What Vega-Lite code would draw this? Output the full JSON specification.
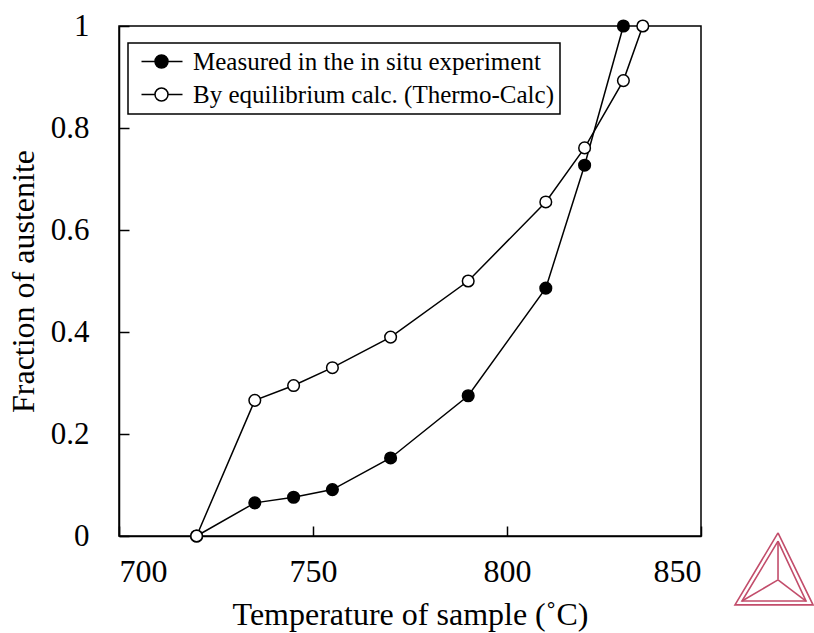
{
  "$schema": "https://vega.github.io/schema/vega-lite/v6.json",
  "width": 582,
  "height": 510,
  "autosize": {"type": "none"},
  "padding": {"left": 119, "top": 26, "right": 113, "bottom": 97},
  "background": "white",
  "config": {
    "font": "Liberation Serif",
    "view": {"stroke": "black", "strokeWidth": 1.5},
    "axis": {
      "grid": false,
      "zindex": 1,
      "domainColor": "black",
      "domainWidth": 1.5,
      "tickColor": "black",
      "tickWidth": 1.5,
      "labelColor": "black",
      "labelFont": "Liberation Serif",
      "titleColor": "black",
      "titleFont": "Liberation Serif",
      "titleFontWeight": "normal"
    }
  },
  "datasets": {
    "fraction": [
      {"temp": 720, "frac": 0.0, "series": "Measured in the in situ experiment"},
      {"temp": 735, "frac": 0.065, "series": "Measured in the in situ experiment"},
      {"temp": 745, "frac": 0.076, "series": "Measured in the in situ experiment"},
      {"temp": 755, "frac": 0.091, "series": "Measured in the in situ experiment"},
      {"temp": 770, "frac": 0.153, "series": "Measured in the in situ experiment"},
      {"temp": 790, "frac": 0.275, "series": "Measured in the in situ experiment"},
      {"temp": 810, "frac": 0.486, "series": "Measured in the in situ experiment"},
      {"temp": 820, "frac": 0.727, "series": "Measured in the in situ experiment"},
      {"temp": 830, "frac": 1.0, "series": "Measured in the in situ experiment"},
      {"temp": 720, "frac": 0.0, "series": "By equilibrium calc. (Thermo-Calc)"},
      {"temp": 735, "frac": 0.266, "series": "By equilibrium calc. (Thermo-Calc)"},
      {"temp": 745, "frac": 0.295, "series": "By equilibrium calc. (Thermo-Calc)"},
      {"temp": 755, "frac": 0.33, "series": "By equilibrium calc. (Thermo-Calc)"},
      {"temp": 770, "frac": 0.39, "series": "By equilibrium calc. (Thermo-Calc)"},
      {"temp": 790, "frac": 0.5, "series": "By equilibrium calc. (Thermo-Calc)"},
      {"temp": 810, "frac": 0.655, "series": "By equilibrium calc. (Thermo-Calc)"},
      {"temp": 820, "frac": 0.761, "series": "By equilibrium calc. (Thermo-Calc)"},
      {"temp": 830, "frac": 0.893, "series": "By equilibrium calc. (Thermo-Calc)"},
      {"temp": 835, "frac": 1.0, "series": "By equilibrium calc. (Thermo-Calc)"}
    ],
    "logo": [
      {"temp": 869.85, "frac": 0.006, "seg": "outer", "ord": 0},
      {"temp": 858.76, "frac": -0.135, "seg": "outer", "ord": 1},
      {"temp": 878.87, "frac": -0.135, "seg": "outer", "ord": 2},
      {"temp": 869.85, "frac": 0.006, "seg": "outer", "ord": 3},
      {"temp": 869.85, "frac": -0.01, "seg": "inner", "ord": 0},
      {"temp": 860.57, "frac": -0.1275, "seg": "inner", "ord": 1},
      {"temp": 877.06, "frac": -0.1275, "seg": "inner", "ord": 2},
      {"temp": 869.85, "frac": -0.01, "seg": "inner", "ord": 3},
      {"temp": 869.85, "frac": -0.086, "seg": "spoke1", "ord": 0},
      {"temp": 869.85, "frac": -0.01, "seg": "spoke1", "ord": 1},
      {"temp": 869.85, "frac": -0.086, "seg": "spoke2", "ord": 0},
      {"temp": 860.57, "frac": -0.1275, "seg": "spoke2", "ord": 1},
      {"temp": 869.85, "frac": -0.086, "seg": "spoke3", "ord": 0},
      {"temp": 877.06, "frac": -0.1275, "seg": "spoke3", "ord": 1}
    ]
  },
  "encoding": {
    "x": {
      "field": "temp",
      "type": "quantitative",
      "scale": {"domain": [700, 850], "nice": false, "zero": false},
      "axis": {
        "values": [700, 750, 800, 850],
        "tickSize": -10,
        "labelFontSize": 32,
        "labelPadding": 30,
        "title": "Temperature of sample (˚C)",
        "titleFontSize": 32,
        "titlePadding": 12
      }
    },
    "y": {
      "field": "frac",
      "type": "quantitative",
      "scale": {"domain": [0, 1], "nice": false, "zero": false},
      "axis": {
        "values": [0, 0.2, 0.4, 0.6, 0.8, 1],
        "format": "~g",
        "tickSize": -10,
        "labelFontSize": 31,
        "labelPadding": 40,
        "title": "Fraction of austenite",
        "titleFontSize": 32,
        "titlePadding": 10
      }
    }
  },
  "layer": [
    {
      "data": {"name": "logo"},
      "mark": {"type": "line", "stroke": "#c24d6b", "strokeWidth": 1.6, "clip": false},
      "encoding": {
        "detail": {"field": "seg"},
        "order": {"field": "ord", "type": "quantitative"}
      }
    },
    {
      "data": {"name": "fraction"},
      "mark": {"type": "line", "stroke": "black", "strokeWidth": 1.5},
      "encoding": {
        "detail": {"field": "series"}
      }
    },
    {
      "data": {"name": "fraction"},
      "mark": {"type": "circle", "size": 135, "stroke": "black", "strokeWidth": 1.5, "opacity": 1},
      "encoding": {
        "fill": {
          "field": "series",
          "type": "nominal",
          "scale": {
            "domain": ["Measured in the in situ experiment", "By equilibrium calc. (Thermo-Calc)"],
            "range": ["black", "white"]
          },
          "legend": {
            "title": null,
            "orient": "none",
            "legendX": 9,
            "legendY": 17,
            "padding": 6,
            "strokeColor": "black",
            "symbolType": "M-0.5,0L0.85,0M2.15,0L3.6,0M2.15,0A0.65,0.65 0 1,1 0.85,0A0.65,0.65 0 1,1 2.15,0Z",
            "symbolSize": 400,
            "symbolStrokeColor": "black",
            "symbolStrokeWidth": 1.5,
            "symbolOpacity": 1,
            "labelFont": "Liberation Serif",
            "labelFontSize": 25,
            "labelColor": "black",
            "labelOffset": 34,
            "labelLimit": 700,
            "rowPadding": 7,
            "encode": {"legend": {"update": {"strokeWidth": {"value": 1.5}}}}
          }
        }
      }
    }
  ]
}
